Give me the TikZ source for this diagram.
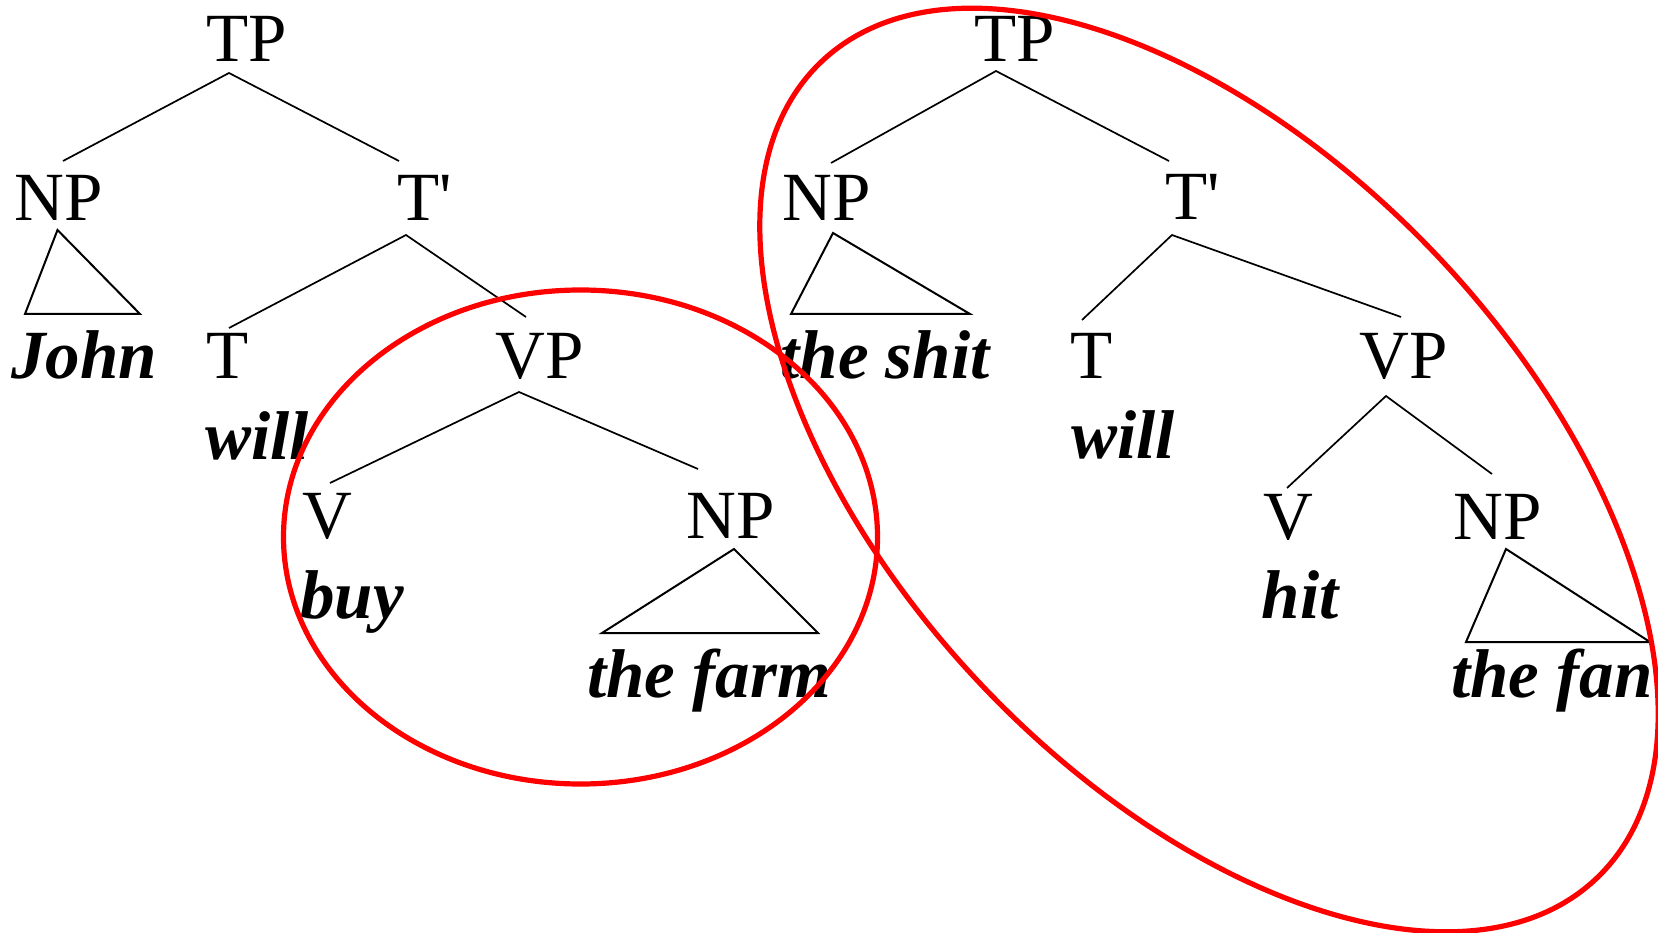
\documentclass[tikz,border=0pt]{standalone}
\usepackage{fontspec}
\setmainfont{Liberation Serif}[Ligatures=TeXOff]
\begin{document}
\begin{tikzpicture}[x=1pt,y=-1pt,
  lab/.style={anchor=base, inner sep=0pt, font=\fontsize{69}{80}\selectfont},
  word/.style={anchor=base, inner sep=0pt, font=\fontsize{69}{80}\selectfont\bfseries\itshape},
  branch/.style={line width=1.7pt},
  tri/.style={line width=2pt, line join=miter},
  ring/.style={draw=red, line width=5.2pt}]
\useasboundingbox (0,0) rectangle (1658,933);

% ---------- left tree ----------
\node[lab] (TPa) at (247,62) {TP};
\node[lab] (NPa) at (59,221) {NP};
\node[lab] (TBa) at (425,221) {T'};
\node[word] (john) at (84,379) {John};
\node[lab] (Ta) at (228,379) {T};
\node[word] (willa) at (257,459) {will};
\node[lab] (VPa) at (540,378) {VP};
\node[lab] (Va) at (327,538) {V};
\node[word] (buy) at (352,618) {buy};
\node[lab] (NPb) at (731,538) {NP};
\node[word] (farm) at (709,697) {the farm};

\coordinate (tpaj) at (229,73);
\coordinate (npat) at (63,161);
\coordinate (tbat) at (399,161);
\coordinate (npa1) at (57.5,230);
\coordinate (npa2) at (25,314);
\coordinate (npa3) at (140,314);
\coordinate (tbaj) at (406,235);
\coordinate (tat) at (229,328);
\coordinate (vpat) at (526,317);
\coordinate (vpaj) at (519,392);
\coordinate (vat) at (330,483);
\coordinate (npbt) at (698,469);
\coordinate (npb1) at (734,549);
\coordinate (npb2) at (602,633);
\coordinate (npb3) at (818,633);

\draw[branch] (npat) -- (tpaj) -- (tbat);
\draw[tri] (npa1) -- (npa2) -- (npa3) -- cycle;
\draw[branch] (tat) -- (tbaj) -- (vpat);
\draw[branch] (vat) -- (vpaj) -- (npbt);
\draw[tri] (npb1) -- (npb2) -- (npb3) -- cycle;

% ---------- right tree ----------
\node[lab] (TPc) at (1015,62) {TP};
\node[lab] (NPc) at (827,221) {NP};
\node[lab] (TBc) at (1193,220) {T'};
\node[word] (shit) at (885,379) {the shit};
\node[lab] (Tc) at (1092,379) {T};
\node[word] (willc) at (1123,458) {will};
\node[lab] (VPc) at (1404,379) {VP};
\node[lab] (Vc) at (1288,539) {V};
\node[word] (hit) at (1300,618) {hit};
\node[lab] (NPd) at (1498,539) {NP};
\node[word] (fan) at (1552,697) {the fan};

\coordinate (tpcj) at (996,71);
\coordinate (npct) at (831,163);
\coordinate (tbct) at (1169,161);
\coordinate (npc1) at (833,233);
\coordinate (npc2) at (791,314);
\coordinate (npc3) at (970,314);
\coordinate (tbcj) at (1172,235);
\coordinate (tct) at (1082,320);
\coordinate (vpct) at (1401,317);
\coordinate (vpcj) at (1386,396);
\coordinate (vct) at (1287,488);
\coordinate (npdt) at (1492,474);
\coordinate (npd1) at (1506,549);
\coordinate (npd2) at (1466,642);
\coordinate (npd3) at (1650,642);

\draw[branch] (npct) -- (tpcj) -- (tbct);
\draw[tri] (npc1) -- (npc2) -- (npc3) -- cycle;
\draw[branch] (tct) -- (tbcj) -- (vpct);
\draw[branch] (vct) -- (vpcj) -- (npdt);
\draw[tri] (npd1) -- (npd2) -- (npd3) -- cycle;

% ---------- red ellipses ----------
\coordinate (smallc) at (580.5,537);
\coordinate (bigc) at (1209,470);
\draw[ring] (smallc) ellipse [x radius=297, y radius=247];
\draw[ring, rotate around={-46.5:(bigc)}] (bigc) ellipse [x radius=563, y radius=313];
\end{tikzpicture}
\end{document}
